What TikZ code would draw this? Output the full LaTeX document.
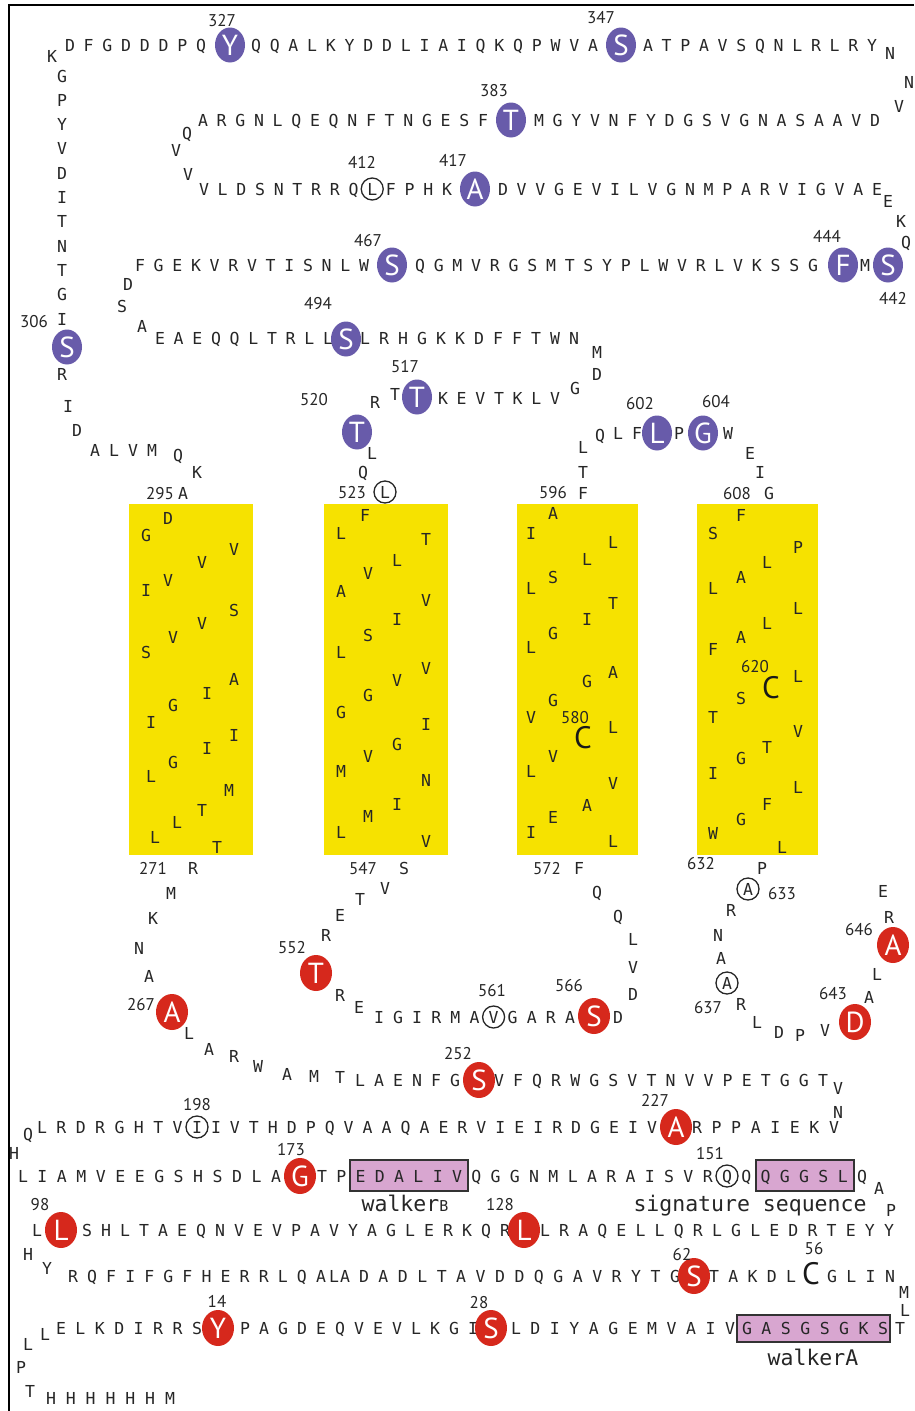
\documentclass[tikz,border=0pt]{standalone}
\usepackage{fontspec}
\usetikzlibrary{shapes.geometric}
\newfontfamily\resfont{DejaVu Sans Mono}
\newfontfamily\labfont{PT Sans}
\definecolor{purp}{RGB}{104,91,170}
\definecolor{redc}{RGB}{214,40,28}
\definecolor{helixyellow}{RGB}{246,226,0}
\definecolor{motifpink}{RGB}{216,166,208}

\tikzset{
  res/.style={font=\resfont\fontsize{16.5}{18}\selectfont, text=black!85,
    inner sep=0pt, text height=12pt, text depth=0pt},
  openres/.style={res, circle, draw=black!85, line width=1.3pt, minimum size=22pt},
  purpres/.style={ellipse, fill=purp, minimum width=30pt, minimum height=35pt,
    inner sep=0pt, text=white, font=\labfont\fontsize{29}{30}\selectfont,
    text height=20pt, text depth=0pt},
  redres/.style={purpres, fill=redc, minimum width=32pt, minimum height=36pt},
  numlab/.style={font=\labfont\fontsize{17}{18}\selectfont, text=black!85,
    inner sep=0pt, text height=12pt, text depth=0pt},
  bigres/.style={font=\labfont\fontsize{31}{32}\selectfont, text=black!90,
    inner sep=0pt, text height=22pt, text depth=0pt},
  helix/.style={fill=helixyellow, draw=none},
  motif/.style={fill=motifpink, draw=black!80, line width=1.8pt},
  motiflab/.style={font=\resfont\fontsize{21.5}{24}\selectfont, text=black!85,
    inner sep=0pt, anchor=base},
}

% one residue (or label) node, numbered automatically
\newcounter{rescount}
\newcommand\resnode[4]{\stepcounter{rescount}%
  \node[#1] (res\arabic{rescount}) at (#2,#3) {#4};}
\newcommand\resat[3]{\resnode{res}{#1}{#2}{#3}}
\newcommand\openat[3]{\resnode{openres}{#1}{#2}{#3}}
\newcommand\purpat[3]{\resnode{purpres}{#1}{#2}{#3}}
\newcommand\redat[3]{\resnode{redres}{#1}{#2}{#3}}
\newcommand\numat[3]{\resnode{numlab}{#1}{#2}{#3}}
\newcommand\bigcat[2]{\resnode{bigres}{#1}{#2}{C}}

% \resrow{x1}{y1}{x2}{y2}{letters}: letters evenly spaced from (x1,y1) to (x2,y2);
% an "o" before a letter puts it in an open circle
\ExplSyntaxOn
\int_new:N \l_resrow_count_int
\int_new:N \l_resrow_index_int
\bool_new:N \l_resrow_open_bool
\NewDocumentCommand \resrow { m m m m m }
  {
    \int_zero:N \l_resrow_count_int
    \tl_map_inline:nn {#5}
      { \str_if_eq:nnF {##1} {o} { \int_incr:N \l_resrow_count_int } }
    \int_zero:N \l_resrow_index_int
    \bool_set_false:N \l_resrow_open_bool
    \tl_map_inline:nn {#5}
      {
        \str_if_eq:nnTF {##1} {o}
          { \bool_set_true:N \l_resrow_open_bool }
          {
            \use:e
              {
                \exp_not:N \resnode
                  { \bool_if:NTF \l_resrow_open_bool { openres } { res } }
                  { \fp_eval:n { #1 + (#3 - (#1)) * \int_use:N \l_resrow_index_int
                      / max(\int_use:N \l_resrow_count_int - 1, 1) } }
                  { \fp_eval:n { #2 + (#4 - (#2)) * \int_use:N \l_resrow_index_int
                      / max(\int_use:N \l_resrow_count_int - 1, 1) } }
                  { ##1 }
              }
            \int_incr:N \l_resrow_index_int
            \bool_set_false:N \l_resrow_open_bool
          }
      }
  }
\ExplSyntaxOff

\begin{document}
\begin{tikzpicture}[x=1pt, y=-1pt]
\useasboundingbox (0,0) rectangle (914,1411);
\fill[white] (0,0) rectangle (914,1411);
\draw[line width=2.5pt] (9,1411) -- (9,5) -- (914,5);

% ---------- transmembrane helices ----------
\fill[helix] (129,504) rectangle (253,855);
\fill[helix] (324,504) rectangle (448,855);
\fill[helix] (517,504) rectangle (638,855);
\fill[helix] (697,504) rectangle (818,855);

\foreach \x/\y/\c in {146/535/G, 168/518/D, 202/562/V, 234/549/V, 146/590/I,
  168/580/V, 234/610/S, 202/623/V, 173/637/V, 146/652/S, 234/679/A, 207/693/I,
  173/705/G, 151/722/I, 234/735/I, 207/748/I, 173/762/G, 151/776/L, 229/790/M,
  202/810/T, 177/822/L, 155/837/L, 217/847/T}
  {\resat{\x}{\y}{\c}}
\foreach \x/\y/\c in {365/515/F, 341/533/L, 426/539/T, 397/560/L, 368/573/V,
  341/591/A, 426/600/V, 397/619/I, 368/635/S, 341/652/L, 426/668/V, 397/680/V,
  368/695/G, 341/712/G, 426/724/I, 397/744/G, 368/756/V, 341/771/M, 426/780/N,
  397/804/I, 368/816/M, 341/832/L, 426/841/V}
  {\resat{\x}{\y}{\c}}
\foreach \x/\y/\c in {553/513/A, 531/533/I, 613/542/L, 587/559/L, 553/577/S,
  531/588/L, 613/603/T, 587/619/I, 553/633/G, 531/647/L, 613/672/A, 587/681/G,
  553/700/G, 531/717/V, 613/727/L, 553/756/V, 531/771/L, 613/783/V, 587/805/A,
  553/817/E, 531/832/I, 613/841/L}
  {\resat{\x}{\y}{\c}}
\numat{575}{717}{580}
\bigcat{583}{737}
\foreach \x/\y/\c in {741/515/F, 713/533/S, 798/547/P, 767/562/L, 741/577/A,
  713/588/L, 798/608/L, 767/623/L, 741/637/A, 713/649/F, 798/676/L, 741/698/S,
  713/717/T, 798/731/V, 767/747/T, 741/758/G, 713/773/I, 798/787/L, 767/804/F,
  741/819/G, 713/833/W, 782/847/L}
  {\resat{\x}{\y}{\c}}
\numat{755}{666}{620}
\bigcat{771}{687}

% ---------- cytoplasmic loop (top) ----------
\resrow{70}{45}{201}{45}{DFGDDDPQ}
\purpat{230}{45}{Y}
\resrow{256}{45}{593}{45}{QQALKYDDLIAIQKQPWVA}
\purpat{621}{45}{S}
\resrow{648}{45}{872}{45}{ATPAVSQNLRLRY}
\resrow{203}{120}{483}{120}{ARGNLQEQNFTNGESF}
\purpat{511}{120}{T}
\resrow{539}{120}{875}{120}{MGYVNFYDGSVGNASAAVD}
\resrow{204}{189}{447}{189}{VLDSNTRRQoLFPHK}
\purpat{475}{189}{A}
\resrow{503}{189}{877}{189}{DVVGEVILVGNMPARVIGVAE}
\resrow{140}{265}{364}{265}{FGEKVRVTISNLW}
\purpat{392}{265}{S}
\resrow{420}{265}{813}{265}{QGMVRGSMTSYPLWVRLVKSSG}
\purpat{843}{265}{F}
\purpat{888}{265}{S}
\resrow{160}{338}{328}{338}{EAEQQLTRLL}
\purpat{346}{339}{S}
\resrow{365}{338}{574}{338}{LRHGKKDFFTWN}
\resrow{443}{398}{555}{398}{KEVTKLV}
\purpat{417}{397}{T}
\purpat{357}{432}{T}
\openat{385}{492}{L}
\resrow{62}{76}{62}{319}{GPYVDITNTGI}
\purpat{67}{347}{S}
\resrow{95}{450}{152}{450}{ALVM}
\purpat{657}{433}{L}
\purpat{703}{433}{G}

\foreach \x/\y/\c in {52/56/K, 890/53/N, 909/82/N, 899/106/V, 187/133/Q,
  176/150/V, 188/174/V, 888/201/E, 901/221/K, 906/242/Q, 128/284/D, 122/306/S,
  142/326/A, 865/265/M, 597/352/M, 597/374/D, 575/388/G, 375/402/R, 395/394/T,
  372/453/L, 363/472/Q, 62/374/R, 68/406/I, 77/430/D, 178/455/Q, 197/472/K,
  183/493/A, 583/447/L, 600/435/Q, 618/433/L, 637/433/F, 679/433/P, 728/433/W,
  750/453/E, 760/472/I, 769/493/G, 583/472/T, 583/493/F}
  {\resat{\x}{\y}{\c}}

\foreach \x/\y/\t in {222/20/327, 601/17/347, 494/90/383, 362/162/412,
  453/160/417, 368/240/467, 827/236/444, 893/298/442, 318/303/494, 34/321/306,
  405/366/517, 314/399/520, 352/492/523, 160/493/295, 640/403/602, 716/401/604,
  553/492/596, 737/493/608}
  {\numat{\x}{\y}{\t}}

% ---------- loops below the helices ----------
\foreach \x/\y/\c in {193/868/R, 171/893/M, 153/918/K, 139/948/N, 149/976/A,
  189/1033/L, 209/1049/A, 234/1056/R, 258/1066/W, 287/1074/A, 314/1076/M,
  340/1077/T, 838/1088/V, 838/1112/N, 404/868/S, 385/888/V, 360/899/T,
  340/915/E, 326/935/R, 340/995/R, 359/1007/E, 618/1017/D, 579/868/F,
  597/892/Q, 618/916/Q, 633/939/L, 633/967/V, 633/994/D, 762/868/P, 731/910/R,
  718/935/N, 721/958/A, 741/1004/R, 757/1022/L, 779/1032/D, 800/1035/P,
  825/1030/V, 869/997/A, 877/974/L, 889/917/R, 883/891/E}
  {\resat{\x}{\y}{\c}}
\resrow{360}{1080}{455}{1080}{LAENFG}
\redat{479}{1080}{S}
\resrow{499}{1080}{823}{1080}{VFQRWGSVTNVVPETGGT}
\redat{172}{1012}{A}
\redat{316}{973}{T}
\resrow{379}{1017}{570}{1017}{IGIRMAoVGARA}
\redat{594}{1016}{S}
\openat{748}{889}{A}
\openat{727}{983}{A}
\redat{855}{1022}{D}
\redat{893}{945}{A}

% ---------- nucleotide binding domain ----------
\fill[motif] (350,1160) rectangle (468,1191);
\fill[motif] (756,1160) rectangle (854,1191);
\fill[motif] (737,1315) rectangle (890,1342);
\draw[motif, fill=none] (350,1160) rectangle (468,1191);
\draw[motif, fill=none] (756,1160) rectangle (854,1191);
\draw[motif, fill=none] (737,1315) rectangle (890,1342);

\resrow{42}{1127}{197}{1127}{LRDRGHTVoI}
\resrow{216}{1127}{652}{1127}{IVTHDPQVAAQAERVIEIRDGEIV}
\redat{676}{1127}{A}
\resrow{697}{1127}{834}{1127}{RPPAIEKV}
\resrow{23}{1176}{276}{1176}{LIAMVEEGSHSDLA}
\redat{300}{1176}{G}
\resrow{322}{1176}{862}{1176}{TPEDALIVQGGNMLARAISVRoQQQGGSLQ}
\redat{61}{1230}{L}
\resrow{87}{1230}{505}{1230}{SHLTAEQNVEVPAVYAGLERKQR}
\redat{524}{1230}{L}
\resrow{545}{1230}{889}{1230}{LRAQELLQRLGLEDRTEYY}
\resrow{73}{1276}{321}{1276}{RQFIFGFHERRLQA}
\resrow{364}{1276}{675}{1276}{DADLTAVDDQGAVRYTG}
\redat{694}{1276}{S}
\resrow{714}{1276}{791}{1276}{TAKDL}
\bigcat{811}{1273}
\resrow{832}{1276}{890}{1276}{GLIN}
\resrow{61}{1328}{197}{1328}{ELKDIRRS}
\redat{218}{1328}{Y}
\resrow{245}{1328}{473}{1328}{PAGDEQVEVLKGI}
\redat{491}{1328}{S}
\resrow{516}{1328}{730}{1328}{LDIYAGEMVAIV}
\resrow{747}{1328}{883}{1328}{GASGSGKS}
\resrow{51}{1398}{170}{1398}{HHHHHHM}

\foreach \x/\y/\c in {28/1134/Q, 14/1153/H, 879/1188/A, 891/1210/P, 37/1230/L,
  28/1254/H, 47/1268/Y, 334/1276/L, 345/1276/A, 904/1292/M, 905/1310/L,
  28/1344/L, 45/1334/L, 900/1328/T, 21/1367/P, 30/1391/T}
  {\resat{\x}{\y}{\c}}

\foreach \x/\y/\t in {153/868/271, 363/868/547, 547/868/572, 701/863/632,
  782/893/633, 292/947/552, 141/1004/267, 492/990/561, 569/985/566,
  708/1007/637, 833/993/643, 859/929/646, 458/1053/252, 197/1104/198,
  655/1100/227, 291/1149/173, 710/1153/151, 40/1204/98, 500/1204/128,
  682/1254/62, 814/1248/56, 217/1301/14, 479/1302/28}
  {\numat{\x}{\y}{\t}}

\node[motiflab] (walkb) at (405,1211) {walker{\fontsize{15}{16}\selectfont B}};
\node[motiflab] (sigseq) at (750,1211) {signature sequence};
\node[motiflab] (walka) at (813,1365) {walkerA};
\end{tikzpicture}
\end{document}
